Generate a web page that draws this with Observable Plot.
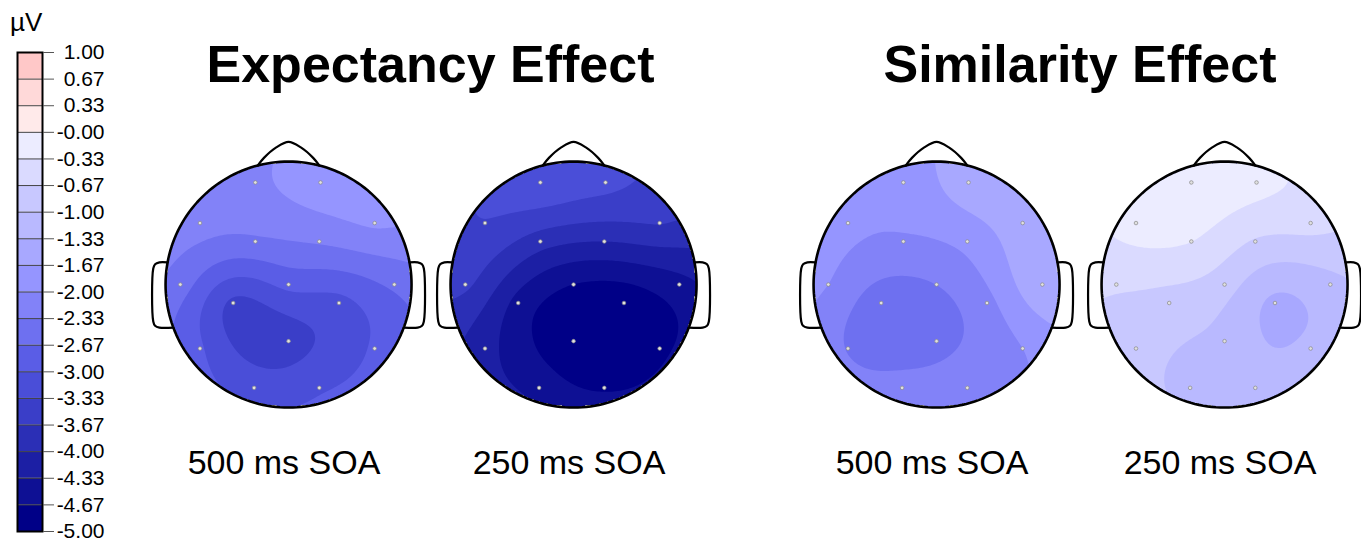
<!DOCTYPE html>
<html><head><meta charset="utf-8">
<script src="https://cdn.jsdelivr.net/npm/d3@7"></script>
<script src="https://cdn.jsdelivr.net/npm/@observablehq/plot@0.6"></script>
<style>
body{margin:0;background:#fff;font-family:"Liberation Sans",Arial,sans-serif;}
#root{position:relative;width:1361px;height:544px;overflow:hidden;background:#fff;}
.abs{position:absolute;line-height:1;white-space:nowrap;color:#000;}
.title{font-weight:bold;font-size:52px;transform:translateX(-50%);}
.label{font-size:34px;transform:translateX(-50%);}
.unit{font-size:26px;}
</style></head><body><div id="root"></div>
<script>
// ---- colour bar ----
const tickValues = [-5, -14/3, -13/3, -4, -11/3, -10/3, -3, -8/3, -7/3, -2, -5/3, -4/3, -1, -2/3, -1/3, 0, 1/3, 2/3, 1];
const tickLabels = ["-5.00","-4.67","-4.33","-4.00","-3.67","-3.33","-3.00","-2.67","-2.33","-2.00","-1.67","-1.33","-1.00","-0.67","-0.33","-0.00","0.33","0.67","1.00"];
const bandColors = ["#000087","#0e1094","#1c1fa4","#2b2fb6","#3a3ec8","#4a4ed8","#5a5de6","#6e70f0","#8282f8","#9595ff","#a8a8ff","#b9b9ff","#c8c8ff","#dadaff","#ececff","#ffeaea","#ffd9d9","#ffc8c8"];

// ---- electrodes (head-relative units, y down) ----
const electrodes = ["Fp1","Fp2","F7","F3","F4","F8","T3","Cz","T4","C3","C4","T5","Pz","T6","O1","O2"];
const electrodeX = [-0.27, 0.26, -0.72, -0.27, 0.25, 0.70, -0.88, 0, 0.86, -0.45, 0.41, -0.72, 0, 0.70, -0.28, 0.25];
const electrodeY = [-0.83, -0.83, -0.50, -0.35, -0.35, -0.50, 0, 0, 0, 0.15, 0.15, 0.52, 0.46, 0.52, 0.84, 0.84];

// ---- amplitudes (µV) per map, electrode order as above ----
const expectancy500 = [-2.05, -1.85, -2.2, -2.4, -2.3, -1.95, -2.5, -2.9, -2.6, -3.4, -3.1, -2.95, -3.45, -2.95, -3.15, -3.05];
const expectancy250 = [-3.1, -3.25, -3.35, -3.85, -4.0, -3.65, -3.6, -4.67, -4.45, -4.45, -4.9, -4.2, -4.92, -4.75, -4.45, -4.7];
const similarity500 = [-1.85, -1.5, -1.9, -2.05, -1.9, -1.5, -2.0, -2.33, -1.4, -2.5, -2.1, -2.35, -2.45, -2.0, -2.2, -2.1];
const similarity250 = [-0.15, -0.25, -0.2, -0.33, -0.7, -0.55, -0.62, -0.85, -1.1, -0.8, -1.4, -0.85, -1.1, -1.25, -1.1, -1.2];

const groupTitles = ["Expectancy Effect", "Similarity Effect"];
const mapLabels = ["500 ms SOA", "250 ms SOA", "500 ms SOA", "250 ms SOA"];
const mapValues = [expectancy500, expectancy250, similarity500, similarity250];

// ---- layout ----
const headCenters = [288, 573, 936, 1224];
const headCy = 284;
const R = 123; // px per head radius
const FONT = '"Liberation Sans", Arial, sans-serif';

// threshold scale: 17 inner thresholds (-4.67 .. 0.67) -> 18 band colours
const colorScale = {type: "threshold", domain: tickValues.slice(1, -1), range: bandColors};
// contour levels: the lowest level catches anything below -5 as the darkest band
const contourLevels = [-9].concat(tickValues.slice(1));

function makeInterp(vals) {
  const n = electrodeX.length;
  const g = r => r === 0 ? 0 : r * r * (Math.log(r) - 1);
  const A = [];
  for (let i = 0; i < n; i++) {
    A.push([]);
    for (let j = 0; j < n; j++) A[i].push(g(Math.hypot(electrodeX[i] - electrodeX[j], electrodeY[i] - electrodeY[j])));
    A[i].push(vals[i]);
  }
  for (let c = 0; c < n; c++) {
    let p = c;
    for (let r = c + 1; r < n; r++) if (Math.abs(A[r][c]) > Math.abs(A[p][c])) p = r;
    [A[c], A[p]] = [A[p], A[c]];
    for (let r = 0; r < n; r++) {
      if (r === c) continue;
      const f = A[r][c] / A[c][c];
      for (let k = c; k <= n; k++) A[r][k] -= f * A[c][k];
    }
  }
  const w = A.map((row, i) => row[n] / row[i]);
  return (x, y) => {
    let s = 0;
    for (let j = 0; j < n; j++) s += w[j] * g(Math.hypot(x - electrodeX[j], y - electrodeY[j]));
    return s;
  };
}

// head outline shapes
const circlePts = d3.range(0, 361, 2).map(a => ({x: Math.cos(a * Math.PI / 180), y: Math.sin(a * Math.PI / 180)}));
const nosePts = [[-0.25, -0.968], [-0.2, -1.03], [-0.1, -1.115], [0, -1.16], [0.1, -1.115], [0.2, -1.03], [0.25, -0.968]].map(([x, y]) => ({x, y}));
const earL = [[-0.984, -0.18], [-1.05, -0.18], [-1.085, -0.165], [-1.10, -0.13], [-1.10, 0.30], [-1.085, 0.335], [-1.05, 0.35], [-0.937, 0.35]].map(([x, y]) => ({x, y}));
const earR = earL.map(p => ({x: -p.x, y: p.y}));

const half = 1.22;
function headPlot(vals) {
  const f = makeInterp(vals);
  const pts = electrodes.map((name, i) => ({name, x: electrodeX[i], y: electrodeY[i], v: vals[i]}));
  return Plot.plot({
    width: 2 * half * R, height: 2 * half * R, margin: 0,
    x: {domain: [-half, half], axis: null},
    y: {domain: [half, -half], axis: null},
    color: colorScale,
    style: {background: "transparent", overflow: "visible"},
    marks: [
      Plot.contour({x1: -1.02, x2: 1.02, y1: -1.02, y2: 1.02,
        fill: (x, y) => (x * x + y * y <= 1.0 ? f(x, y) : NaN),
        thresholds: contourLevels, stroke: "none"}),
      Plot.line(circlePts, {x: "x", y: "y", stroke: "black", strokeWidth: 2.6}),
      Plot.line(nosePts, {x: "x", y: "y", stroke: "black", strokeWidth: 2.2, curve: "catmull-rom"}),
      Plot.line(earL, {x: "x", y: "y", stroke: "black", strokeWidth: 2.2, curve: "catmull-rom"}),
      Plot.line(earR, {x: "x", y: "y", stroke: "black", strokeWidth: 2.2, curve: "catmull-rom"}),
      Plot.dot(pts, {x: "x", y: "y", r: 1.8, fill: "#e0e0e0", stroke: "#888", strokeWidth: 0.7})
    ]
  });
}

const root = document.getElementById("root");
function place(el, left, top) {
  el.style.position = "absolute";
  el.style.left = left + "px";
  el.style.top = top + "px";
  root.appendChild(el);
}

// colour bar
const bands = tickValues.slice(0, -1).map((lo, i) => ({lo, hi: tickValues[i + 1]}));
const labelFor = d => tickLabels[Math.round((d + 5) * 3)];
const bar = Plot.plot({
  width: 130, height: 544, marginLeft: 17, marginRight: 88, marginTop: 52, marginBottom: 13,
  x: {domain: [0, 1], axis: null},
  y: {domain: [-5, 1], axis: null},
  color: colorScale,
  style: {fontFamily: FONT, fontSize: "21px", color: "black", background: "transparent", overflow: "visible"},
  marks: [
    Plot.rect(bands, {x1: 0, x2: 1, y1: "lo", y2: "hi", fill: "lo"}),
    Plot.ruleY(tickValues, {stroke: "#444", strokeWidth: 1}),
    Plot.frame({stroke: "black", strokeWidth: 2}),
    Plot.axisY({anchor: "right", ticks: tickValues, tickSize: 11, tickFormat: () => "", stroke: "#555"}),
    Plot.text(tickValues, {y: d => d, text: labelFor, frameAnchor: "right", textAnchor: "end", dx: 62, fill: "black", fontSize: 21})
  ]
});
place(bar, 0, 0);

const unit = document.createElement("div");
unit.className = "abs unit";
unit.textContent = "µV";
place(unit, 10, 9);

// titles
groupTitles.forEach((t, i) => {
  const d = document.createElement("div");
  d.className = "abs title";
  d.textContent = t;
  place(d, (headCenters[2 * i] + headCenters[2 * i + 1]) / 2, 38);
});

// heads + labels
mapValues.forEach((vals, i) => {
  const svg = headPlot(vals);
  place(svg, headCenters[i] - half * R, headCy - half * R);
  const d = document.createElement("div");
  d.className = "abs label";
  d.textContent = mapLabels[i];
  place(d, headCenters[i] - 4, 445);
});
</script></body></html>
